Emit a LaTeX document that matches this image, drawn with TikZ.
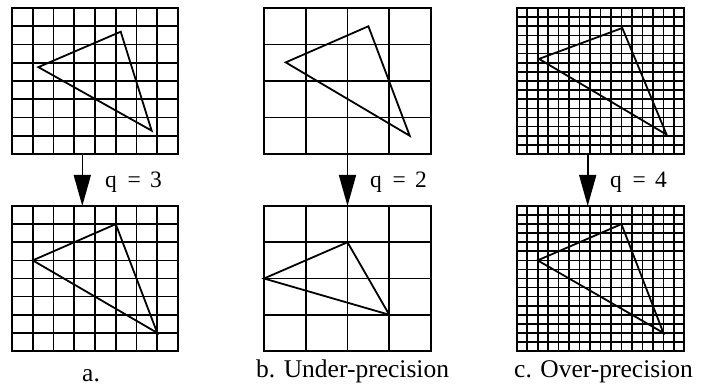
\documentclass[tikz,border=0pt]{standalone}
\usepackage{fontspec}
\setmainfont{Liberation Serif}
\usetikzlibrary{arrows.meta}
\tikzset{
  gridline/.style={line width=1.7pt, line cap=rect},
  triline/.style={line width=1.8pt, line join=miter},
  maparrow/.style={line width=1.6pt, -{Triangle[length=31pt,width=17pt]}},
  qlabel/.style={anchor=base west, inner sep=0pt, font=\fontsize{23.5}{26}\selectfont},
  panellabel/.style={anchor=base west, inner sep=0pt, font=\fontsize{25.5}{28}\selectfont}
}
\begin{document}
\begin{tikzpicture}[x=1pt,y=-1pt]
\useasboundingbox (0,0) rectangle (703,387);

% ---------- panel a ----------
\begin{scope}[shift={(12,8)}, x=20.75pt, y=-18.25pt]
  \foreach \k in {0,...,8} {\draw[gridline] (\k,0) -- (\k,8); \draw[gridline] (0,\k) -- (8,\k);}
  \coordinate (aT1) at (1.27,3.24); \coordinate (aT2) at (5.24,1.3); \coordinate (aT3) at (6.73,6.72);
  \draw[triline] (aT1) -- (aT2) -- (aT3) -- cycle;
\end{scope}
\begin{scope}[shift={(12,206)}, x=20.75pt, y=-18.125pt]
  \foreach \k in {0,...,8} {\draw[gridline] (\k,0) -- (\k,8); \draw[gridline] (0,\k) -- (8,\k);}
  \coordinate (aB1) at (1,3); \coordinate (aB2) at (5,1); \coordinate (aB3) at (7,7);
  \draw[triline] (aB1) -- (aB2) -- (aB3) -- cycle;
\end{scope}
\coordinate (aFrom) at (82.3,154); \coordinate (aTo) at (82.3,206);
\draw[maparrow] (aFrom) -- (aTo);
\node[qlabel] (qa) at (105,188) {q\hspace{0.45em}=\hspace{0.4em}3};
\node[panellabel] (la) at (82,381.5) {a.};

% ---------- panel b ----------
\begin{scope}[shift={(264,8)}, x=41.75pt, y=-36.5pt]
  \foreach \k in {0,...,4} {\draw[gridline] (\k,0) -- (\k,4); \draw[gridline] (0,\k) -- (4,\k);}
  \coordinate (bT1) at (0.52,1.49); \coordinate (bT2) at (2.5,0.5); \coordinate (bT3) at (3.49,3.5);
  \draw[triline] (bT1) -- (bT2) -- (bT3) -- cycle;
\end{scope}
\begin{scope}[shift={(264,206)}, x=41.75pt, y=-36.25pt]
  \foreach \k in {0,...,4} {\draw[gridline] (\k,0) -- (\k,4); \draw[gridline] (0,\k) -- (4,\k);}
  \coordinate (bB1) at (0,2); \coordinate (bB2) at (2,1); \coordinate (bB3) at (3,3);
  \draw[triline] (bB1) -- (bB2) -- (bB3) -- cycle;
\end{scope}
\coordinate (bFrom) at (347.5,154); \coordinate (bTo) at (347.5,206);
\draw[maparrow] (bFrom) -- (bTo);
\node[qlabel] (qb) at (370,188) {q\hspace{0.45em}=\hspace{0.4em}2};
\node[panellabel] (lb) at (256,377.5) {b. Under-precision};

% ---------- panel c ----------
\begin{scope}[shift={(516.7,8)}, x=10.475pt, y=-9.125pt]
  \foreach \k in {0,...,16} {\draw[gridline] (\k,0) -- (\k,16); \draw[gridline] (0,\k) -- (16,\k);}
  \coordinate (cT1) at (2.13,5.58); \coordinate (cT2) at (10.08,2.19); \coordinate (cT3) at (14.31,13.88);
  \draw[triline] (cT1) -- (cT2) -- (cT3) -- cycle;
\end{scope}
\begin{scope}[shift={(516.7,206)}, x=10.475pt, y=-9.0625pt]
  \foreach \k in {0,...,16} {\draw[gridline] (\k,0) -- (\k,16); \draw[gridline] (0,\k) -- (16,\k);}
  \coordinate (cB1) at (2,6); \coordinate (cB2) at (10,2); \coordinate (cB3) at (14,14);
  \draw[triline] (cB1) -- (cB2) -- (cB3) -- cycle;
\end{scope}
\coordinate (cFrom) at (587.7,154); \coordinate (cTo) at (587.7,206);
\draw[maparrow] (cFrom) -- (cTo);
\node[qlabel] (qc) at (610,188) {q\hspace{0.45em}=\hspace{0.4em}4};
\node[panellabel] (lc) at (514,377.5) {c. Over-precision};
\end{tikzpicture}
\end{document}
